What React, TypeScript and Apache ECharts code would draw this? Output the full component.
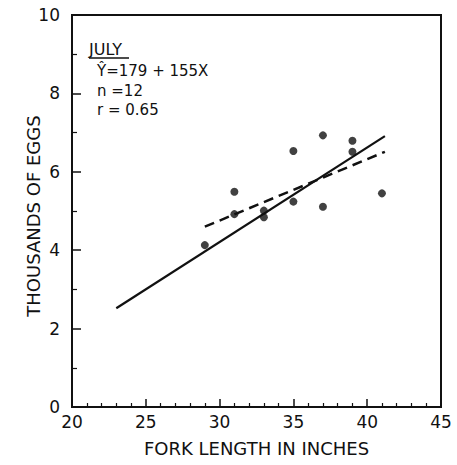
import React, { useEffect, useRef } from "react";
import * as echarts from "echarts";

const forkLength = [29, 31, 31, 33, 33, 35, 35, 37, 37, 39, 39, 41];
const eggsThousands = [4.13, 5.49, 4.92, 5.01, 4.84, 6.53, 5.24, 6.93, 5.11, 6.79, 6.51, 5.45];
const solidLine = [[23, 2.52], [41.2, 6.91]];
const dashedLine = [[29, 4.6], [41.2, 6.51]];
const xTicks = [20, 25, 30, 35, 40, 45];
const yTicks = [0, 2, 4, 6, 8, 10];
const noteLines = ["Ŷ=179 + 155X", "n =12", "r = 0.65"];

const FONT = "DejaVu Sans";

export default function App() {
  const ref = useRef<HTMLDivElement>(null);
  useEffect(() => {
    if (!ref.current) return;
    const chart = echarts.init(ref.current, undefined, { renderer: "svg" });
    const points = forkLength.map((x, i) => [x, eggsThousands[i]]);
    chart.setOption({
      animation: false,
      backgroundColor: "#fff",
      grid: {
        left: 72,
        top: 15,
        right: 16,
        bottom: 58,
        show: true,
        borderColor: "#111",
        borderWidth: 2,
      },
      xAxis: {
        type: "value",
        min: xTicks[0],
        max: xTicks[xTicks.length - 1],
        interval: 5,
        name: "FORK LENGTH IN INCHES",
        nameLocation: "middle",
        nameGap: 32,
        nameTextStyle: { fontFamily: FONT, fontSize: 18, color: "#111" },
        axisLine: { lineStyle: { color: "#111", width: 2 } },
        axisTick: { inside: true, length: 8, lineStyle: { color: "#111", width: 1.5 } },
        minorTick: { show: true, splitNumber: 5, length: 4, lineStyle: { color: "#111", width: 1.2 } },
        axisLabel: { fontFamily: FONT, fontSize: 17, color: "#111", margin: 6 },
        splitLine: { show: false },
      },
      yAxis: {
        type: "value",
        min: yTicks[0],
        max: yTicks[yTicks.length - 1],
        interval: 2,
        axisLine: { show: true, lineStyle: { color: "#111", width: 2 } },
        axisTick: { show: true, inside: true, length: 9, lineStyle: { color: "#111", width: 1.5 } },
        minorTick: { show: true, splitNumber: 2, length: 5, lineStyle: { color: "#111", width: 1.2 } },
        axisLabel: { fontFamily: FONT, fontSize: 17, color: "#111", margin: 12 },
        splitLine: { show: false },
      },
      graphic: [
        {
          type: "text",
          x: 33,
          y: 216,
          rotation: Math.PI / 2,
          style: {
            text: "THOUSANDS OF EGGS",
            fontFamily: FONT,
            fontSize: 18,
            fill: "#111",
            align: "center",
            verticalAlign: "middle",
          },
        },
        {
          type: "text",
          x: 89,
          y: 49,
          style: {
            text: "JULY",
            fontFamily: FONT,
            fontSize: 16,
            fill: "#111",
            verticalAlign: "middle",
          },
        },
        {
          type: "line",
          shape: { x1: 89, y1: 58, x2: 129, y2: 58 },
          style: { stroke: "#111", lineWidth: 1.5 },
        },
        ...noteLines.map((t, i) => ({
          type: "text",
          x: 97,
          y: 71 + i * 19.5,
          style: {
            text: t,
            fontFamily: FONT,
            fontSize: 15,
            fill: "#111",
            verticalAlign: "middle",
          },
        })),
      ],
      series: [
        {
          type: "scatter",
          data: points,
          symbol: "circle",
          symbolSize: 8,
          itemStyle: { color: "#111" },
          z: 3,
        },
        {
          type: "line",
          data: solidLine,
          showSymbol: false,
          symbol: "none",
          lineStyle: { color: "#111", width: 2.2 },
        },
        {
          type: "line",
          data: dashedLine,
          showSymbol: false,
          symbol: "none",
          lineStyle: { color: "#111", width: 2.5, type: [10, 6] },
        },
      ],
    });
    return () => chart.dispose();
  }, []);
  return (
    <div
      ref={ref}
      style={{ position: "absolute", left: 0, top: 0, width: 457, height: 465 }}
    />
  );
}
